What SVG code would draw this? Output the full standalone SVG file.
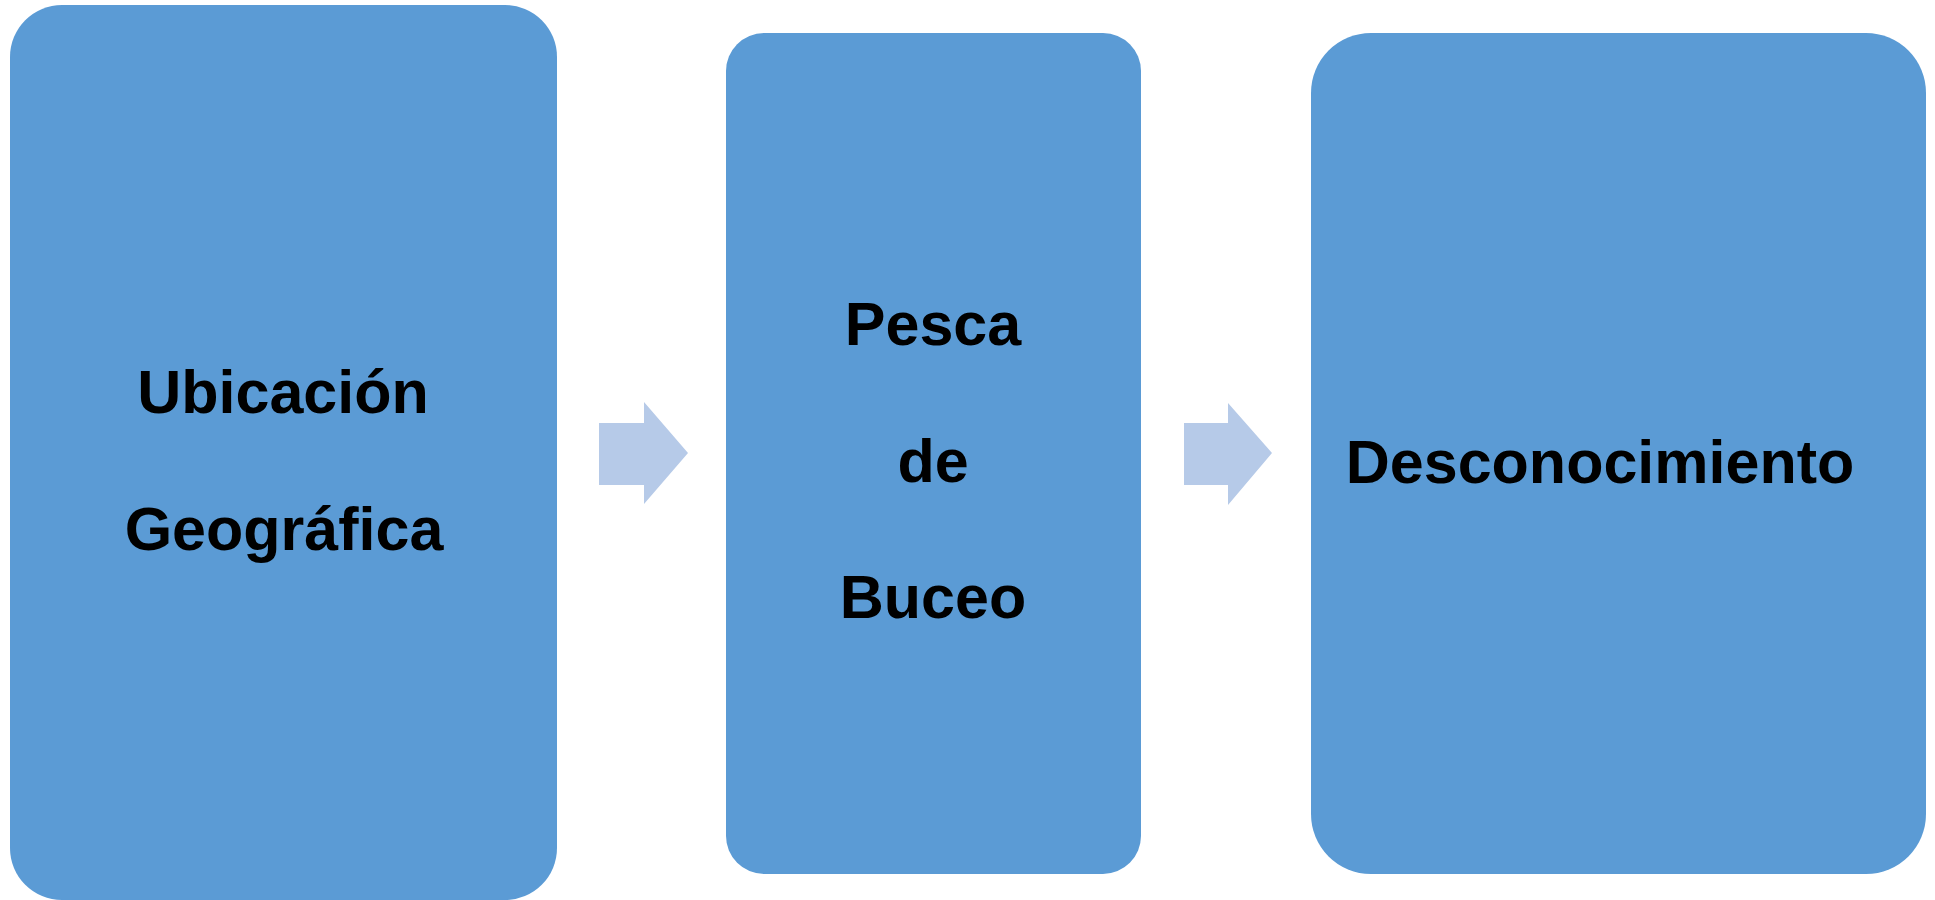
<svg xmlns="http://www.w3.org/2000/svg" width="1935" height="900" viewBox="0 0 1935 900">
<style>
.box{fill:#5B9BD5}
.arr{fill:#B6CAE8}
.t{font-family:"Liberation Sans",Arial,sans-serif;font-weight:bold;font-size:61px;fill:#000;text-anchor:middle}
</style>
<rect width="1935" height="900" fill="#fff"/>
<g id="node1">
<rect class="box" x="10" y="5" width="547" height="895" rx="52" ry="52"/>
<text class="t" x="283" y="413">Ubicación</text>
<text class="t" x="284" y="550">Geográfica</text>
</g>
<g id="node2">
<rect class="box" x="726" y="33" width="415" height="841" rx="38" ry="38"/>
<text class="t" x="933" y="345">Pesca</text>
<text class="t" x="933" y="482">de</text>
<text class="t" x="933" y="618">Buceo</text>
</g>
<g id="node3">
<rect class="box" x="1311" y="33" width="615" height="841" rx="60" ry="60"/>
<text class="t" x="1600" y="483">Desconocimiento</text>
</g>
<g id="connectors">
<polygon class="arr" points="599,423 644,423 644,402 688,453 644,504 644,485 599,485"/>
<polygon class="arr" points="1184,423 1228,423 1228,403 1272,453 1228,505 1228,485 1184,485"/>
</g>
</svg>
